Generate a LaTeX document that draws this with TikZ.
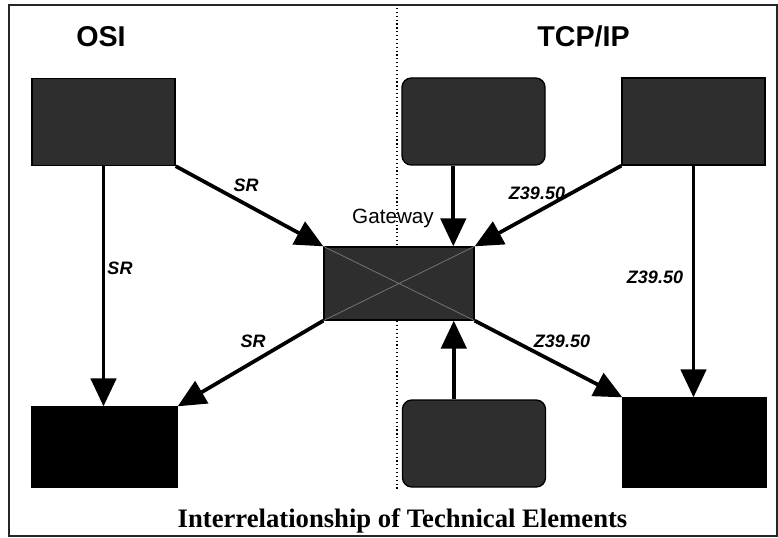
\documentclass[tikz,border=0pt]{standalone}
\usepackage{fontspec}
\setmainfont{Liberation Serif}
\setsansfont{Liberation Sans}
\usetikzlibrary{arrows.meta,calc}

\tikzset{
  block/.style={draw=black, line width=1pt, inner sep=0pt,
    minimum width=107.25pt, minimum height=65.25pt},
  graybox/.style={block, fill=black!82},
  roundbox/.style={graybox, rounded corners=7pt},
  darkbox/.style={block, fill=black},
  flow/.style={line width=2.8pt, -{Triangle[length=21pt,width=19pt]}},
  linklabel/.style={font=\sffamily\bfseries\itshape\fontsize{13.5}{15}\selectfont, inner sep=0pt},
  heading/.style={font=\sffamily\bfseries\fontsize{21.5}{24}\selectfont, inner sep=0pt},
}

\begin{document}
\begin{tikzpicture}[x=0.75pt, y=-0.75pt]
  \useasboundingbox (0,0) rectangle (778,538);
  \draw[line width=0.8pt, black!85] (9,5) rectangle (777,536);
  \draw[dotted, line width=0.9pt] (397,8) -- (397,490);

  % column headings
  \node[heading] (osi) at (101,37) {OSI};
  \node[heading] (tcpip) at (583.5,36) {TCP/IP};

  % blocks
  \node[graybox] (osiclient) at (103.5,122) {};
  \node[roundbox] (browser) at (473.5,121.5) {};
  \node[graybox] (zclient) at (693.5,121.5) {};
  \node[graybox, minimum width=112.5pt, minimum height=54.75pt] (gate) at (399,283.5) {};
  \draw[black!55, line width=0.6pt] (gate.north west) -- (gate.south east)
    (gate.north east) -- (gate.south west);
  \node[font=\sffamily\fontsize{15.5}{18}\selectfont, inner sep=0pt] (gatelabel) at (393,218) {Gateway};
  \node[darkbox, minimum width=108.75pt, minimum height=60pt] (srserver) at (104.5,447) {};
  \node[roundbox] (mail) at (474,443.5) {};
  \node[darkbox, minimum height=66.75pt] (zserver) at (694.5,442.5) {};
  \coordinate (browserout) at ($(browser.south west)!0.36!(browser.south east)$);
  \coordinate (mailout) at ($(mail.north west)!0.36!(mail.north east)$);

  % connectors
  \draw[flow] (osiclient.south) -- (osiclient.south |- srserver.north);
  \draw[flow] (osiclient.south east) -- (gate.north west);
  \draw[flow] (gate.south west) -- (srserver.north east);
  \draw[flow] (browserout) -- (browserout |- gate.north);
  \draw[flow] (zclient.south west) -- (gate.north east);
  \draw[flow] (zclient.south) -- (zclient.south |- zserver.north);
  \draw[flow] (gate.south east) -- (zserver.north west);
  \draw[flow] (mailout) -- (mailout |- gate.south);

  % connector labels
  \node[linklabel] (sra) at (246,185) {SR};
  \node[linklabel] (srb) at (120,268) {SR};
  \node[linklabel] (src) at (253,341) {SR};
  \node[linklabel] (za) at (537,193) {Z39.50};
  \node[linklabel] (zb) at (655,277) {Z39.50};
  \node[linklabel] (zc) at (562,341) {Z39.50};

  \node[font=\bfseries\fontsize{20}{24}\selectfont, inner sep=0pt, anchor=base]
    (title) at (402.5,527) {Interrelationship of Technical Elements};
\end{tikzpicture}
\end{document}
